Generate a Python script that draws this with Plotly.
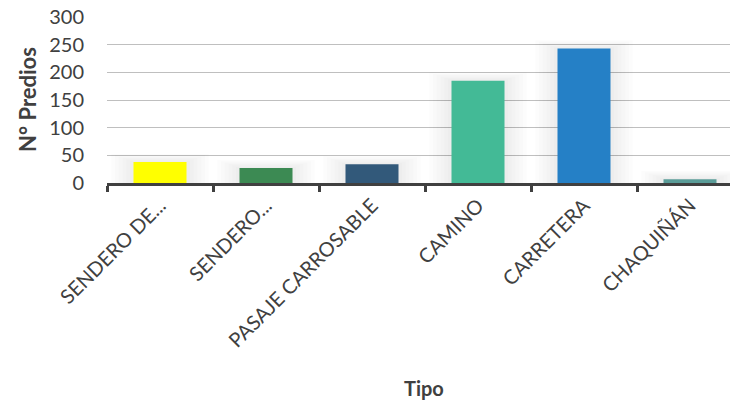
import plotly.graph_objects as go

categories = ["SENDERO DE...", "SENDERO...", "PASAJE CARROSABLE", "CAMINO", "CARRETERA", "CHAQUIÑÁN"]
values = [38, 27, 34, 185, 243, 7]
colors = ["#FFFF00", "#3C8A53", "#32597A", "#43BA96", "#2580C6", "#5A9C98"]
y_ticks = [0, 50, 100, 150, 200, 250, 300]

W, H = 730, 403
L, T, B = 107, 17, 220
FONT = "Lato"

fig = go.Figure()
# soft shadow layers (Excel-like glow)
for k in range(6, 0, -1):
    fig.add_trace(go.Bar(x=categories, y=[v + 2.5 * k for v in values], width=0.5 + 0.07 * k,
                         marker=dict(color="rgba(0,0,0,0.013)", line=dict(width=0)),
                         hoverinfo="skip", showlegend=False))
fig.add_trace(go.Bar(x=categories, y=values, width=0.5,
                     marker=dict(color=colors, line=dict(width=0)), showlegend=False))

pw = W - L
ph = H - T - B

fig.update_layout(
    width=W, height=H, barmode="overlay",
    margin=dict(l=L, r=0, t=T, b=B, pad=0),
    paper_bgcolor="white", plot_bgcolor="white",
    font=dict(family=FONT, size=20, color="#404040"),
    xaxis=dict(range=[-0.5, 5.5 - 13 / 106], showgrid=False, showline=True,
               linecolor="#404040", linewidth=3, ticks="outside", tickson="boundaries",
               ticklen=6, tickwidth=3, tickcolor="#404040", tickangle=-45,
               tickfont=dict(size=20, color="#404040", family=FONT), zeroline=False,
               automargin=False),
    yaxis=dict(range=[0, 300], tickvals=y_ticks, showgrid=True, gridcolor="#BFBFBF",
               gridwidth=1, showline=False, zeroline=False, ticks="",
               ticklabelstandoff=22, tickfont=dict(size=20, color="#404040", family=FONT),
               automargin=False),
    annotations=[
        dict(text="<b>N° Predios</b>", x=(27 - L) / pw, y=(H - B - 100) / ph,
             xref="paper", yref="paper", xanchor="center", yanchor="middle",
             showarrow=False, textangle=-90,
             font=dict(size=22, color="#404040", family=FONT)),
        dict(text="<b>Tipo</b>", x=(424 - L) / pw, y=(H - B - 388) / ph,
             xref="paper", yref="paper", xanchor="center", yanchor="middle",
             showarrow=False,
             font=dict(size=20, color="#404040", family=FONT)),
    ],
)

fig.write_html("out.html", config={"displayModeBar": False},
               post_script="document.body.style.margin='0';")
